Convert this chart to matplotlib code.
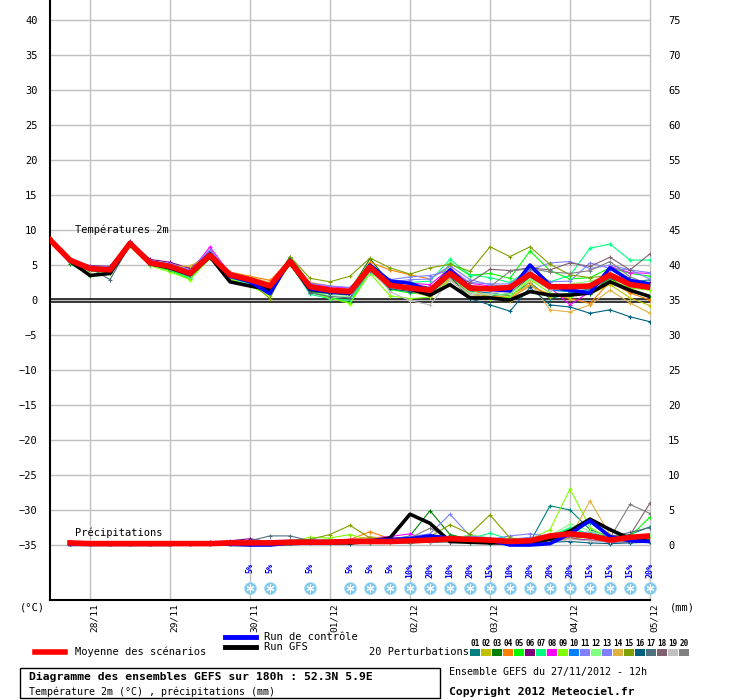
import matplotlib
matplotlib.use('Agg')
import matplotlib.pyplot as plt
from matplotlib.lines import Line2D
from matplotlib.patches import Rectangle

plt.rcParams['font.family'] = ['DejaVu Sans Mono', 'DejaVu Sans']

# time axis: hours since 27/11/2012 12h, every 6h
hours_t = [6 * i for i in range(31)]
hours_p = [6 * i for i in range(1, 31)]
day_hours = [12, 36, 60, 84, 108, 132, 156, 180]
day_labels = ['28/11', '29/11', '30/11', '01/12', '02/12', '03/12', '04/12', '05/12']

# 2m temperature (degC)
mean_t = [8.6, 5.7, 4.5, 4.3, 8.1, 5.3, 4.8, 3.8, 6.4, 3.6, 2.9, 2.0, 5.5, 1.9, 1.4, 1.2,
          4.7, 2.1, 1.7, 1.4, 3.8, 1.7, 1.6, 1.8, 3.7, 1.9, 1.9, 2.0, 3.6, 2.2, 1.8]
ctrl_t = [8.5, 5.6, 4.4, 4.2, 8.2, 5.4, 4.9, 3.9, 6.6, 3.4, 2.6, 0.9, 5.7, 1.6, 1.2, 1.0,
          5.0, 2.7, 2.4, 1.3, 4.3, 1.8, 1.5, 1.3, 5.0, 2.1, 1.4, 1.0, 4.6, 2.8, 2.3]
gfs_t = [8.7, 5.6, 3.5, 3.8, 8.0, 5.2, 4.6, 3.6, 6.2, 2.6, 2.0, 1.5, 5.4, 1.5, 1.2, 1.0,
         4.6, 2.5, 1.6, 0.7, 2.2, 0.3, 0.3, 0.0, 1.2, 0.7, 0.7, 1.0, 2.6, 1.4, 0.5]
pert_t = [
    [8.7, 5.8, 4.6, 4.5, 8.2, 5.2, 4.6, 3.5, 6.3, 3.4, 2.7, 1.7, 5.3, 1.5, 1.0, 0.8, 4.2, 1.8, 1.4, 0.8, 3.2, 1.3, 1.0, 0.6, 2.5, 0.2, 0.9, 1.6, 3.0, 2.5, 2.9],
    [8.8, 5.9, 4.7, 4.6, 8.0, 5.4, 5.0, 4.0, 6.5, 3.8, 3.1, 2.3, 5.6, 2.1, 1.7, 1.5, 4.4, 2.0, 1.2, 0.5, 2.8, 0.9, 0.4, 0.6, 2.2, 0.5, 1.0, 0.8, 2.2, 0.3, -0.8],
    [8.9, 5.2, 3.5, 3.8, 7.9, 5.1, 4.3, 3.4, 6.1, 3.2, 2.5, 1.6, 6.2, 2.3, 1.6, 1.4, 5.9, 2.4, 1.5, 1.1, 3.5, 0.8, 0.6, 0.9, 3.3, 1.5, 1.2, 0.9, 3.2, 1.2, 0.5],
    [8.5, 5.8, 4.8, 4.6, 8.3, 5.5, 5.1, 4.6, 6.8, 4.0, 3.4, 2.8, 5.7, 2.5, 2.0, 1.5, 5.4, 4.3, 3.6, 3.0, 4.8, 1.5, 0.5, 0.3, 2.0, 0.8, 0.2, -0.5, 2.6, 1.0, 0.0],
    [8.6, 5.5, 4.2, 4.0, 7.8, 5.0, 4.2, 3.0, 6.0, 3.3, 2.4, 1.3, 6.0, 1.2, 0.4, -0.4, 4.2, 1.5, 1.0, 0.8, 5.3, 3.5, 3.8, 3.1, 7.0, 4.2, 3.0, 3.2, 4.6, 3.8, 3.4],
    [8.4, 5.8, 4.9, 4.8, 8.4, 5.8, 5.4, 4.5, 7.0, 3.9, 3.0, 2.3, 5.3, 2.0, 1.5, 1.3, 4.5, 2.8, 2.3, 1.8, 3.5, 2.0, 1.8, 1.3, 3.4, 1.5, 1.3, 2.3, 3.8, 2.7, 2.4],
    [8.7, 5.6, 4.3, 4.1, 7.9, 5.0, 4.4, 3.2, 6.2, 3.1, 2.3, 1.0, 5.4, 0.8, 0.2, 0.0, 3.9, 2.2, 2.5, 2.7, 5.8, 3.6, 3.2, 2.5, 4.5, 2.6, 3.5, 7.4, 8.0, 5.7, 5.7],
    [8.5, 5.7, 4.4, 4.2, 8.2, 5.3, 4.9, 4.0, 7.6, 3.7, 2.9, 2.1, 5.4, 2.2, 1.9, 1.7, 4.4, 2.8, 2.4, 2.2, 4.5, 2.4, 2.0, 1.6, 3.9, 1.8, -0.7, 1.2, 4.8, 3.9, 3.8],
    [8.6, 5.5, 4.1, 3.9, 7.7, 4.9, 4.0, 2.9, 6.0, 3.0, 2.0, 0.6, 5.2, 1.1, 0.3, -0.5, 3.8, 0.6, 0.2, 0.4, 3.0, 0.5, 0.2, 0.4, 2.9, 1.0, 0.5, 1.1, 2.9, 1.7, 1.4],
    [8.7, 5.7, 4.6, 4.4, 8.0, 5.4, 4.9, 3.9, 6.6, 3.8, 3.1, 1.9, 5.3, 1.7, 1.3, 1.1, 4.9, 1.9, 1.6, 1.6, 4.1, 2.0, 1.8, 1.3, 4.0, 1.4, 1.2, 1.3, 3.6, 2.1, 2.0],
    [8.6, 5.9, 4.8, 4.7, 8.1, 5.6, 5.2, 4.3, 7.2, 3.8, 3.0, 2.2, 5.5, 2.1, 1.6, 1.4, 4.8, 2.6, 2.9, 3.0, 4.9, 2.9, 2.2, 1.8, 4.3, 5.3, 5.5, 4.5, 5.0, 4.3, 3.9],
    [8.6, 5.6, 4.3, 4.0, 8.0, 5.2, 4.6, 3.4, 6.1, 3.3, 2.6, 1.4, 5.0, 1.3, 0.6, 0.5, 4.0, 1.7, 1.2, 0.6, 3.3, 1.1, 0.7, 0.9, 3.0, 1.6, 2.3, 2.7, 3.4, 2.2, 1.8],
    [8.5, 5.8, 4.7, 4.5, 8.2, 5.5, 5.0, 4.1, 6.9, 3.9, 3.2, 2.4, 5.6, 2.4, 2.0, 1.8, 4.6, 2.9, 3.3, 3.5, 4.2, 2.5, 2.3, 2.3, 4.4, 2.6, 2.7, 5.3, 4.5, 4.3, 3.0],
    [8.7, 5.8, 4.5, 4.3, 8.1, 5.3, 4.7, 4.9, 6.2, 3.5, 3.3, 2.5, 5.3, 1.8, 1.5, 1.1, 4.4, 1.9, 1.2, 0.6, 3.1, 0.8, 0.5, -0.2, 2.6, -1.4, -1.7, -0.7, 1.4, -0.4, -1.9],
    [8.8, 5.6, 4.2, 4.0, 7.9, 5.1, 4.5, 3.6, 6.0, 3.2, 2.6, 0.2, 6.2, 3.1, 2.6, 3.4, 6.0, 4.6, 3.7, 4.6, 5.1, 4.1, 7.6, 6.2, 7.6, 5.1, 3.6, 3.2, 3.5, 2.8, 2.0],
    [8.6, 5.6, 4.4, 4.1, 8.0, 5.1, 4.5, 3.6, 6.3, 3.4, 2.5, 1.5, 5.2, 1.2, 0.9, 0.7, 4.3, 1.6, 1.2, 0.9, 3.4, 0.2, -0.7, -1.6, 1.8, -0.7, -1.0, -1.9, -1.4, -2.4, -3.1],
    [8.4, 5.5, 4.6, 2.9, 7.9, 5.0, 4.5, 3.7, 6.2, 3.3, 2.8, 1.9, 5.1, 1.0, 0.5, 0.3, 4.2, 2.0, 1.7, 1.3, 3.6, 1.6, 1.8, 2.0, 3.9, 1.6, 1.7, 1.5, 3.2, 2.4, 2.1],
    [8.5, 5.7, 4.5, 4.4, 8.3, 5.4, 4.8, 3.9, 6.5, 3.7, 3.0, 2.1, 5.3, 1.8, 1.3, 1.0, 4.3, 2.2, 1.8, 1.5, 3.5, 2.5, 4.4, 4.2, 4.6, 4.3, 5.3, 4.8, 6.1, 4.3, 6.6],
    [8.6, 5.6, 4.3, 4.2, 8.0, 5.2, 4.6, 3.7, 6.3, 3.5, 2.7, 1.8, 5.4, 1.6, 1.1, 0.9, 4.6, 1.2, -0.1, -0.7, 2.8, 0.8, 0.9, 1.4, 3.4, 1.5, 1.8, 2.2, 3.9, 2.4, 2.0],
    [8.5, 5.7, 4.6, 4.4, 8.2, 5.4, 4.9, 4.0, 6.7, 3.6, 2.8, 2.0, 5.6, 2.0, 1.5, 1.3, 4.5, 2.3, 1.9, 1.6, 3.9, 2.0, 1.9, 4.1, 4.5, 4.0, 3.8, 4.2, 5.5, 3.3, 2.2],
]

# precipitation (mm per 6h)
mean_p = [0.3, 0.2, 0.2, 0.2, 0.2, 0.2, 0.2, 0.2, 0.3, 0.3, 0.3, 0.4, 0.4, 0.4, 0.5,
          0.5, 0.5, 0.6, 0.7, 0.9, 0.8, 0.7, 0.5, 0.6, 1.3, 1.6, 1.3, 0.7, 1.1, 1.3]
ctrl_p = [0.1, 0.1, 0.1, 0.1, 0.1, 0.1, 0.2, 0.2, 0.1, 0.0, 0.0, 0.3, 0.5, 0.4, 0.4,
          0.6, 0.8, 0.9, 1.3, 1.0, 0.8, 0.7, 0.0, 0.0, 0.2, 1.6, 3.5, 1.2, 0.6, 0.5]
gfs_p = [0.1, 0.1, 0.1, 0.1, 0.1, 0.1, 0.2, 0.2, 0.1, 0.1, 0.2, 0.2, 0.3, 0.3, 0.3,
         0.5, 1.0, 4.4, 3.1, 0.5, 0.4, 0.3, 0.3, 0.4, 0.8, 2.0, 3.7, 2.2, 0.9, 0.5]
pert_p = [
    [0.2, 0.1, 0.1, 0.1, 0.1, 0.1, 0.1, 0.2, 0.2, 0.3, 0.3, 0.4, 0.4, 0.3, 0.5, 0.4, 0.6, 0.5, 0.4, 0.6, 0.8, 0.5, 0.3, 0.4, 5.6, 5.0, 2.2, 1.2, 1.5, 2.6],
    [0.3, 0.2, 0.2, 0.1, 0.1, 0.2, 0.2, 0.2, 0.3, 0.2, 0.3, 0.3, 0.5, 0.4, 0.5, 0.4, 0.3, 0.3, 0.5, 0.6, 0.3, 0.4, 0.3, 0.2, 0.6, 0.8, 1.2, 0.6, 0.5, 0.4],
    [0.4, 0.3, 0.2, 0.1, 0.1, 0.2, 0.3, 0.3, 0.4, 0.3, 0.4, 0.5, 0.5, 0.5, 0.6, 0.5, 0.7, 1.3, 4.9, 1.5, 0.8, 0.6, 0.5, 0.4, 0.6, 1.8, 1.0, 0.7, 0.8, 0.6],
    [0.2, 0.2, 0.1, 0.1, 0.1, 0.1, 0.2, 0.2, 0.3, 0.3, 0.3, 0.4, 0.5, 0.6, 0.8, 1.9, 0.9, 0.5, 0.4, 0.6, 0.5, 0.3, 0.3, 0.5, 0.8, 1.2, 1.0, 0.6, 0.4, 0.5],
    [0.3, 0.2, 0.2, 0.2, 0.1, 0.2, 0.2, 0.3, 0.3, 0.4, 0.3, 0.5, 0.6, 0.8, 0.4, 0.3, 0.5, 0.6, 0.7, 0.8, 1.4, 0.9, 0.5, 0.6, 1.0, 2.4, 1.5, 0.8, 1.2, 4.0],
    [0.4, 0.2, 0.2, 0.1, 0.2, 0.2, 0.3, 0.4, 0.6, 0.9, 0.4, 0.3, 0.3, 0.4, 0.5, 0.4, 0.5, 0.6, 0.5, 0.4, 0.5, 0.6, 0.8, 1.0, 0.6, 0.9, 0.7, 0.4, 0.5, 0.6],
    [0.2, 0.2, 0.1, 0.1, 0.1, 0.1, 0.1, 0.2, 0.2, 0.3, 0.3, 0.4, 0.4, 0.3, 0.4, 0.6, 0.8, 0.5, 0.6, 1.0, 0.9, 1.7, 0.8, 0.6, 1.2, 2.5, 1.5, 1.2, 0.7, 0.9],
    [0.1, 0.1, 0.1, 0.1, 0.1, 0.1, 0.2, 0.2, 0.3, 0.4, 0.3, 0.5, 0.6, 0.7, 0.8, 1.0, 1.2, 1.6, 0.6, 0.5, 0.6, 0.6, 0.5, 0.4, 0.6, 1.2, 3.6, 1.3, 0.6, 0.7],
    [0.3, 0.2, 0.2, 0.1, 0.1, 0.2, 0.2, 0.3, 0.3, 0.4, 0.5, 0.5, 1.1, 1.0, 1.5, 0.7, 0.5, 0.6, 0.8, 0.6, 0.5, 0.7, 1.0, 0.8, 2.2, 8.0, 2.5, 0.9, 0.7, 0.6],
    [0.2, 0.2, 0.1, 0.1, 0.1, 0.1, 0.2, 0.2, 0.3, 0.3, 0.4, 0.4, 0.5, 0.5, 0.6, 0.7, 0.8, 0.9, 0.8, 1.0, 1.2, 0.9, 0.6, 0.5, 0.7, 1.8, 3.2, 1.0, 0.8, 0.9],
    [0.2, 0.1, 0.1, 0.1, 0.1, 0.2, 0.3, 0.3, 0.4, 0.3, 0.4, 0.4, 0.5, 0.6, 0.5, 0.6, 0.8, 0.9, 0.7, 1.2, 1.0, 0.8, 1.3, 1.6, 1.2, 1.5, 1.9, 1.0, 0.9, 1.1],
    [0.2, 0.1, 0.1, 0.1, 0.1, 0.1, 0.2, 0.2, 0.3, 0.3, 0.3, 0.4, 0.4, 0.5, 0.6, 0.8, 0.5, 0.6, 0.4, 0.7, 1.5, 1.0, 0.6, 0.8, 1.3, 3.0, 2.0, 1.1, 0.9, 1.5],
    [0.3, 0.2, 0.1, 0.1, 0.2, 0.2, 0.3, 0.4, 0.4, 0.5, 0.6, 0.7, 0.8, 0.6, 0.5, 0.7, 0.9, 1.2, 1.6, 4.4, 1.3, 1.0, 0.8, 1.1, 1.0, 1.3, 1.5, 1.0, 1.2, 0.9],
    [0.2, 0.2, 0.1, 0.1, 0.1, 0.1, 0.2, 0.2, 0.3, 0.3, 0.3, 0.4, 0.5, 0.6, 0.7, 1.2, 0.8, 0.6, 0.5, 0.4, 0.5, 0.6, 0.4, 0.3, 0.6, 1.0, 6.3, 1.5, 0.8, 0.9],
    [0.3, 0.2, 0.2, 0.1, 0.1, 0.1, 0.2, 0.2, 0.3, 0.4, 0.5, 0.6, 0.8, 1.5, 2.8, 1.0, 0.8, 0.9, 1.2, 2.9, 1.6, 4.3, 1.0, 0.6, 0.8, 1.5, 1.2, 0.7, 0.9, 0.8],
    [0.1, 0.1, 0.1, 0.1, 0.1, 0.1, 0.1, 0.1, 0.2, 0.2, 0.2, 0.3, 0.3, 0.3, 0.2, 0.3, 0.4, 0.3, 0.4, 0.5, 0.3, 0.2, 0.2, 0.3, 0.4, 0.5, 0.3, 0.2, 0.3, 0.4],
    [0.3, 0.2, 0.2, 0.1, 0.1, 0.1, 0.2, 0.3, 0.4, 0.6, 1.3, 1.3, 0.6, 0.6, 0.5, 0.6, 0.8, 0.7, 0.6, 0.5, 0.7, 0.8, 0.6, 0.5, 0.8, 1.4, 1.6, 1.2, 1.8, 2.5],
    [0.2, 0.1, 0.1, 0.1, 0.1, 0.1, 0.2, 0.2, 0.3, 0.3, 0.4, 0.3, 0.4, 0.5, 0.6, 0.5, 0.6, 0.7, 0.6, 0.8, 0.9, 0.7, 0.6, 0.8, 1.0, 1.2, 1.0, 0.9, 1.4, 6.0],
    [0.1, 0.1, 0.1, 0.1, 0.1, 0.1, 0.1, 0.2, 0.2, 0.2, 0.3, 0.3, 0.3, 0.4, 0.4, 0.5, 0.4, 0.5, 0.5, 0.6, 0.5, 0.4, 0.6, 0.7, 0.5, 0.8, 0.6, 0.5, 0.6, 0.7],
    [0.2, 0.2, 0.1, 0.1, 0.1, 0.1, 0.2, 0.2, 0.3, 0.3, 0.4, 0.4, 0.5, 0.6, 0.5, 0.6, 0.8, 1.0, 2.4, 0.9, 0.7, 0.6, 0.8, 0.9, 1.0, 1.5, 1.2, 1.0, 5.8, 4.5],
]
pert_colors = ['#008080', '#c0c000', '#008000', '#ff8000', '#00ff00', '#800080', '#00ff80',
               '#ff00ff', '#80ff00', '#0080ff', '#8080ff', '#80ff80', '#8080ff', '#e0b040',
               '#80a000', '#006080', '#507080', '#806070', '#c0c0c0', '#808080']

# snow probability (%)
snow_hours = [60, 66, 78, 90, 96, 102, 108, 114, 120, 126, 132, 138, 144, 150, 156, 162, 168, 174, 180]
snow_pct = [5, 5, 5, 5, 5, 5, 10, 20, 10, 20, 15, 10, 20, 20, 20, 15, 15, 15, 20]

P_OFF = 35  # precip 0 mm drawn at -35 on the temperature scale

W, H = 740, 700
fig = plt.figure(figsize=(W / 100, H / 100), dpi=100)
ax = fig.add_axes([50 / W, 100 / H, 600 / W, 600 / H])
ax.set_xlim(0, 180)
ax.set_ylim(-300 / 7, 300 / 7)


def fx(x):
    return x / W


def fy(y):
    return 1 - y / H


# grid
for v in range(-35, 45, 5):
    ax.axhline(v, color='#c0c0c0', lw=1.0, zorder=0)
for h in day_hours:
    ax.axvline(h, color='#c0c0c0', lw=1.0, zorder=0, clip_on=False)
ax.axhline(0.15, color='black', lw=1.1, zorder=1)
ax.axhline(-0.22, color='black', lw=1.1, zorder=1)

# perturbations
for vals, c in zip(pert_t, pert_colors):
    ax.plot(hours_t, vals, color=c, lw=0.8, marker='+', ms=3, mew=0.8, zorder=2)
for vals, c in zip(pert_p, pert_colors):
    ax.plot(hours_p, [v - P_OFF for v in vals], color=c, lw=0.8, marker='+', ms=3, mew=0.8, zorder=2)

ax.plot(hours_t, gfs_t, color='black', lw=2.6, zorder=3)
ax.plot(hours_p, [v - P_OFF for v in gfs_p], color='black', lw=2.6, zorder=3)
ax.plot(hours_t, ctrl_t, color='#0000ff', lw=2.6, zorder=4)
ax.plot(hours_p, [v - P_OFF for v in ctrl_p], color='#0000ff', lw=2.6, zorder=4)
ax.plot(hours_t, mean_t, color='#ff0000', lw=4, zorder=5)
ax.plot(hours_p, [v - P_OFF for v in mean_p], color='#ff0000', lw=4, zorder=5)

# snow icons
for h, p in zip(snow_hours, snow_pct):
    ax.scatter(h, -41.1, s=75, color='#7cc8ee', edgecolor='#a8dcf4', lw=0.5, zorder=6, clip_on=False)
    ax.scatter(h, -41.1, s=28, marker=(6, 2, 0), color='white', lw=0.8, zorder=7, clip_on=False)
    ax.text(h, -37.6, f'{p}%', rotation=90, ha='center', va='top', color='#0000ff',
            fontsize=6, fontweight='bold', zorder=7, clip_on=False)

ax.text(7.5, 10, 'Températures 2m', fontsize=7.5, va='center', ha='left')
ax.text(7.5, -33.2, 'Précipitations', fontsize=7.5, va='center', ha='left')

for s in ['top', 'right']:
    ax.spines[s].set_visible(False)
for s in ['left', 'bottom']:
    ax.spines[s].set_color('black')
    ax.spines[s].set_linewidth(1.5)

ax.set_yticks(range(-35, 45, 5))
ax.tick_params(axis='y', length=0, pad=9, labelsize=7.5)
ax.set_xticks(day_hours)
ax.set_xticklabels(day_labels, rotation=90, ha='left', va='top', fontsize=6.8)
ax.tick_params(axis='x', length=0, pad=2)

ax2 = ax.twinx()
ax2.set_ylim(-300 / 7 + P_OFF, 300 / 7 + P_OFF)
ax2.set_yticks(range(0, 80, 5))
ax2.tick_params(axis='y', length=0, pad=13, labelsize=7.5)
for s in ax2.spines.values():
    s.set_visible(False)

fig.text(fx(20), fy(608), '(°C)', fontsize=7.5, va='center')
fig.text(fx(670), fy(607), '(mm)', fontsize=7.5, va='center')

# legend
fig.add_artist(Line2D([fx(35), fx(65)], [fy(652), fy(652)], color='#ff0000', lw=4))
fig.text(fx(75), fy(652), 'Moyenne des scénarios', fontsize=7.5, va='center')
fig.add_artist(Line2D([fx(225), fx(256)], [fy(637), fy(637)], color='#0000ff', lw=3.5))
fig.text(fx(264), fy(637), 'Run de contrôle', fontsize=7.5, va='center')
fig.add_artist(Line2D([fx(225), fx(256)], [fy(647), fy(647)], color='black', lw=3.5))
fig.text(fx(264), fy(647), 'Run GFS', fontsize=7.5, va='center')
fig.text(fx(369), fy(652), '20 Perturbations', fontsize=7.5, va='center')
for k, c in enumerate(pert_colors):
    x0 = 470 + 11 * k
    fig.add_artist(Rectangle((fx(x0), fy(656)), 10 / W, 7 / H, transform=fig.transFigure,
                             facecolor=c, edgecolor='none'))
    fig.text(fx(x0 + 5), fy(643), f'{k + 1:02d}', fontsize=5.5, fontweight='bold',
             ha='center', va='center')

# title box
fig.add_artist(Rectangle((fx(20), fy(698)), 420 / W, 30 / H, transform=fig.transFigure,
                         facecolor='none', edgecolor='black', lw=1))
fig.text(fx(29), fy(677), 'Diagramme des ensembles GEFS sur 180h : 52.3N 5.9E',
         fontsize=8.2, fontweight='bold', va='center')
fig.text(fx(29), fy(692), 'Température 2m (°C) , précipitations (mm)', fontsize=7.2, va='center')
fig.text(fx(449), fy(672), 'Ensemble GEFS du 27/11/2012 - 12h', fontsize=7.2, va='center')
fig.text(fx(449), fy(692), 'Copyright 2012 Meteociel.fr', fontsize=8.2, fontweight='bold', va='center')

fig.savefig('out.png', dpi=100)
